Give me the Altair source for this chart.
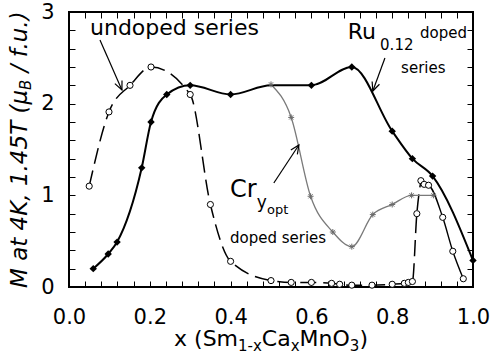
import math
import altair as alt
import pandas as pd

# ---------------- data ----------------
# Ru(0.12)-doped series: filled diamonds, solid line
ru_x = [0.06, 0.097, 0.119, 0.18, 0.203, 0.242, 0.30, 0.40, 0.50, 0.60, 0.70, 0.80, 0.85, 0.90, 1.00]
ru_y = [0.20, 0.36, 0.49, 1.30, 1.80, 2.10, 2.20, 2.10, 2.20, 2.20, 2.40, 1.70, 1.40, 1.21, 0.29]
ru_marker = [True] * 8 + [False] + [True] * 6

# undoped series: open circles, dashed line
und_x = [0.05, 0.099, 0.151, 0.203, 0.30, 0.35, 0.40, 0.50, 0.55, 0.60, 0.65, 0.67,
         0.70, 0.75, 0.80, 0.83, 0.84, 0.85, 0.861, 0.871]
und_y = [1.10, 1.91, 2.20, 2.40, 2.10, 0.90, 0.28, 0.07, 0.05, 0.05, 0.04, 0.03,
         0.02, 0.02, 0.03, 0.04, 0.05, 0.06, 0.80, 1.16]
# continuation of the undoped series beyond its high-x peak (solid)
und_tail_x = [0.871, 0.879, 0.89, 0.925, 0.95, 0.976]
und_tail_y = [1.16, 1.12, 1.11, 0.76, 0.39, 0.09]

# Cr(y_opt)-doped series: gray line, small star markers
cr_x = [0.50, 0.55, 0.598, 0.653, 0.70, 0.752, 0.80, 0.848, 0.902]
cr_y = [2.21, 1.85, 0.99, 0.60, 0.44, 0.79, 0.90, 1.00, 1.00]

# axis ticks
x_ticks = [round(i * 0.04, 2) for i in range(26)]
y_ticks = [round(i * 0.2, 1) for i in range(16)]

# ---------------- layout / style ----------------
W, H = 404, 275
XMAX, YMAX = 1.0, 3.0
FONT = "DejaVu Sans"

xs = alt.Scale(domain=[0, XMAX], nice=False, zero=False)
ys = alt.Scale(domain=[0, YMAX], nice=False, zero=False)

one = pd.DataFrame({"k": [0]})
ru = pd.DataFrame({"x": ru_x, "y": ru_y, "m": ru_marker})
und = pd.DataFrame({"x": und_x, "y": und_y})
und_tail = pd.DataFrame({"x": und_tail_x, "y": und_tail_y})
cr = pd.DataFrame({"x": cr_x, "y": cr_y})

common = dict(grid=False, domain=False, tickColor="black", tickWidth=1,
              tickSize=6, offset=-6, title=None)
ax_bottom = alt.Axis(orient="bottom", values=x_ticks,
                     labelExpr="abs(datum.value*5 - round(datum.value*5)) < 1e-6 ? format(datum.value, '.1f') : ''",
                     labelFont=FONT, labelFontSize=21, labelColor="black",
                     labelPadding=19, labelFlush=False, labelOverlap=False, **common)
ax_top = alt.Axis(orient="top", values=x_ticks, labels=False, **common)
ax_left = alt.Axis(orient="left", values=y_ticks,
                   labelExpr="abs(datum.value - round(datum.value)) < 1e-6 ? format(datum.value, 'd') : ''",
                   labelFont=FONT, labelFontSize=21, labelColor="black",
                   labelPadding=15, labelFlush=False, labelOverlap=False, **common)
ax_right = alt.Axis(orient="right", values=y_ticks, labels=False, **common)


def X(field="x:Q", axis=None):
    return alt.X(field, scale=xs, axis=axis)


def Y(field="y:Q", axis=None):
    return alt.Y(field, scale=ys, axis=axis)


layers = []

# lines
layers.append(alt.Chart(und).mark_line(color="black", strokeWidth=1.5, strokeDash=[16, 7],
                                       interpolate="monotone")
              .encode(x=X(axis=ax_top), y=Y(axis=ax_right)))
layers.append(alt.Chart(und_tail).mark_line(color="black", strokeWidth=1.4, interpolate="monotone")
              .encode(x=X(), y=Y()))
layers.append(alt.Chart(cr).mark_line(color="#7a7a7a", strokeWidth=1.3, interpolate="monotone")
              .encode(x=X(), y=Y()))
layers.append(alt.Chart(ru).mark_line(color="black", strokeWidth=2, interpolate="monotone")
              .encode(x=X(axis=ax_bottom), y=Y(axis=ax_left)))

# markers
STAR = "M -1 0 L 1 0 M 0 -1 L 0 1 M -0.7 -0.7 L 0.7 0.7 M -0.7 0.7 L 0.7 -0.7"
layers.append(alt.Chart(cr).mark_point(shape=STAR, size=36, filled=False, stroke="#6a6a6a",
                                       strokeWidth=1, opacity=1)
              .encode(x=X(), y=Y()))
layers.append(alt.Chart(ru).transform_filter("datum.m").mark_point(shape="diamond", size=55, filled=True,
                                                                  color="black", opacity=1)
              .encode(x=X(), y=Y()))
und_all = pd.concat([und, und_tail.iloc[1:]], ignore_index=True)
layers.append(alt.Chart(und_all).mark_point(shape="circle", size=38, filled=True, fill="white",
                                            stroke="black", strokeWidth=1, opacity=1)
              .encode(x=X(), y=Y()))


# annotations in data coordinates
def note(text, xd, yd, size):
    return (alt.Chart(one)
            .mark_text(text=text, font=FONT, fontSize=size, align="left",
                       baseline="alphabetic", color="black")
            .encode(x=alt.XDatum(xd, scale=xs, axis=None), y=alt.YDatum(yd, scale=ys, axis=None)))


layers += [
    note("undoped series", 0.052, 2.75, 22),
    note("Ru", 0.69, 2.705, 22),
    note("0.12", 0.77, 2.585, 15),
    note("doped", 0.869, 2.716, 15),
    note("series", 0.822, 2.334, 15),
    note("Cr", 0.3985, 0.982, 24),
    note("y", 0.465, 0.862, 17),
    note("opt", 0.49, 0.796, 13),
    note("doped series", 0.3985, 0.48, 15),
]

# arrows (tail -> head) in data coordinates
arrows = [
    (0.0767, 2.694, 0.131, 2.149),
    (0.782, 2.498, 0.752, 2.138),
    (0.507, 1.135, 0.569, 1.549),
]
HEAD = "M -0.45 1 L 0 0 L 0.45 1"
for tx, ty, hx, hy in arrows:
    dx = (hx - tx) * W / XMAX
    dy = -(hy - ty) * H / YMAX
    ang = math.degrees(math.atan2(dx, -dy)) % 360
    layers.append(alt.Chart(one).mark_rule(color="black", strokeWidth=1.2)
                  .encode(x=alt.XDatum(tx, scale=xs, axis=None), y=alt.YDatum(ty, scale=ys, axis=None),
                          x2=alt.X2Datum(hx), y2=alt.Y2Datum(hy)))
    layers.append(alt.Chart(one).mark_point(shape=HEAD, angle=ang, size=300, filled=False,
                                            stroke="black", strokeWidth=1.2, opacity=1)
                  .encode(x=alt.XDatum(hx, scale=xs, axis=None), y=alt.YDatum(hy, scale=ys, axis=None)))

# axis titles with sub-scripts, built from text pieces (pixel positions in the view)
CW = {'x': .592, ' ': .318, '(': .390, ')': .390, 'S': .635, 'm': .974, '1': .636, '-': .361,
      'C': .698, 'a': .613, 'M': .863, 'n': .634, 'O': .787, '3': .636, 't': .392, '4': .636,
      'K': .656, ',': .318, '.': .318, '5': .636, 'T': .611, 'μ': .636, 'B': .686, '/': .337,
      'f': .352, 'u': .634}


def tw(s, size):
    return sum(CW.get(c, .6) for c in s) * size


def ptext(text, px, py, size, angle=0, style="normal"):
    return (alt.Chart(one)
            .mark_text(text=text, font=FONT, fontSize=size, fontStyle=style, align="left",
                       baseline="alphabetic", color="black", angle=angle)
            .encode(x=alt.value(px), y=alt.value(py)))


# x title: x (Sm1-xCaxMnO3)
xparts = [("x (Sm", 22, 0), ("1-x", 15, 5), ("Ca", 22, 0), ("x", 15, 5),
          ("MnO", 22, 0), ("3", 15, 5), (")", 22, 0)]
total = sum(tw(s, sz) for s, sz, _ in xparts)
cx = W / 2 - total / 2
for s, sz, dy in xparts:
    layers.append(ptext(s, cx, 334 + dy, sz))
    cx += tw(s, sz)

# y title: M at 4K, 1.45T (μB / f.u.)  rotated, italic
yparts = [("M at 4K, 1.45T (μ", 23, 0), ("B", 15, 4), (" / f.u.)", 23, 0)]
cy = 276
for s, sz, dxo in yparts:
    lead = len(s) - len(s.lstrip(" "))
    cy -= tw(" " * lead, sz)
    s2 = s.lstrip(" ")
    layers.append(ptext(s2, -42 + dxo, cy, sz, angle=270, style="italic"))
    cy -= tw(s2, sz)

chart = (alt.layer(*layers)
         .properties(width=W, height=H, background="white",
                     padding={"left": 69, "top": 12, "right": 19, "bottom": 77},
                     autosize=alt.AutoSizeParams(type="none"))
         .resolve_axis(x="independent", y="independent")
         .configure_view(stroke="black", strokeWidth=2))

chart.save("out.html", embed_options={"renderer": "svg", "actions": False})
